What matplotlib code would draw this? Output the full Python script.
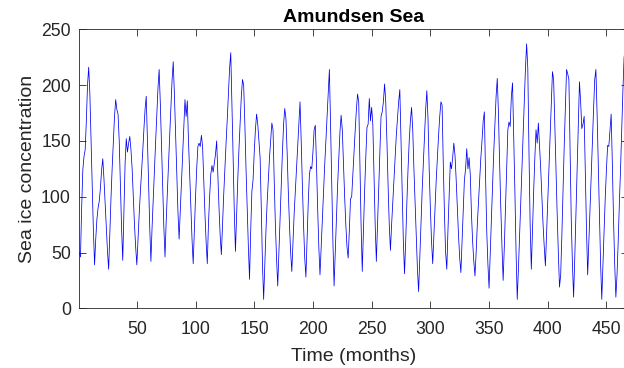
import matplotlib
matplotlib.use("Agg")
import matplotlib.pyplot as plt
import numpy as np

# Monthly sea ice concentration, Amundsen Sea (Jan..Dec per row)
ice_years_01_10 = [
    [50, 46, 90, 124, 136, 142, 168, 200, 216, 192, 150, 110],
    [70, 39, 62, 80, 90, 96, 108, 124, 134, 116, 94, 73],
    [51, 35, 68, 99, 126, 149, 172, 187, 178, 174, 150, 110],
    [72, 43, 85, 130, 152, 140, 148, 154, 142, 125, 100, 75],
    [55, 39, 62, 84, 104, 122, 140, 160, 178, 190, 153, 113],
    [72, 42, 73, 99, 125, 149, 173, 197, 214, 184, 147, 110],
    [73, 46, 78, 104, 130, 155, 179, 204, 221, 192, 157, 122],
    [87, 62, 87, 112, 137, 162, 187, 172, 186, 150, 120, 90],
    [62, 40, 70, 100, 125, 145, 148, 145, 155, 145, 115, 85],
    [60, 40, 75, 100, 120, 128, 122, 130, 138, 150, 120, 90],
]
ice_years_11_20 = [
    [65, 48, 75, 102, 126, 148, 169, 193, 215, 229, 184, 136],
    [87, 51, 85, 116, 143, 167, 190, 205, 200, 165, 125, 90],
    [55, 26, 70, 105, 115, 140, 160, 174, 165, 150, 135, 90],
    [40, 8, 40, 70, 95, 115, 135, 150, 166, 160, 115, 75],
    [45, 20, 50, 80, 110, 140, 165, 179, 170, 140, 105, 75],
    [50, 33, 60, 85, 105, 125, 145, 165, 185, 150, 110, 75],
    [45, 28, 60, 95, 120, 127, 125, 140, 160, 164, 130, 90],
    [55, 30, 55, 80, 105, 128, 150, 172, 195, 214, 165, 110],
    [60, 20, 50, 80, 110, 135, 158, 173, 160, 130, 100, 75],
    [55, 45, 70, 98, 100, 120, 140, 160, 178, 192, 185, 130],
]
ice_years_21_30 = [
    [75, 33, 70, 105, 135, 162, 165, 188, 168, 180, 165, 120],
    [75, 42, 75, 110, 140, 172, 176, 185, 201, 185, 150, 110],
    [75, 52, 75, 95, 115, 135, 155, 170, 185, 196, 150, 100],
    [60, 31, 60, 95, 125, 150, 168, 180, 160, 125, 95, 65],
    [35, 15, 45, 75, 105, 130, 155, 178, 195, 170, 125, 90],
    [60, 40, 65, 90, 115, 135, 155, 172, 185, 182, 130, 85],
    [50, 35, 70, 100, 131, 125, 135, 148, 137, 115, 90, 65],
    [45, 32, 60, 90, 115, 125, 143, 125, 135, 120, 85, 60],
    [42, 29, 50, 75, 95, 115, 135, 150, 168, 176, 120, 70],
    [40, 18, 50, 80, 110, 140, 165, 190, 206, 175, 130, 90],
]
ice_years_31_39 = [
    [55, 25, 55, 90, 125, 160, 167, 163, 190, 202, 155, 105],
    [50, 8, 35, 65, 95, 125, 155, 185, 215, 237, 215, 140],
    [75, 35, 70, 105, 135, 160, 148, 166, 145, 125, 100, 75],
    [55, 38, 67, 96, 125, 154, 183, 212, 205, 165, 125, 85],
    [50, 19, 30, 65, 105, 145, 180, 214, 210, 205, 140, 80],
    [40, 10, 45, 85, 125, 165, 203, 185, 161, 165, 172, 120],
    [70, 30, 60, 90, 120, 150, 178, 205, 214, 175, 130, 85],
    [40, 8, 40, 70, 100, 125, 146, 145, 160, 174, 130, 80],
    [40, 10, 30, 60, 95, 125, 160, 195, 225, 232, 200, 150],
]

x_ticks = [50, 100, 150, 200, 250, 300, 350, 400, 450]
y_ticks = [0, 50, 100, 150, 200, 250]

values = np.concatenate([np.ravel(ice_years_01_10), np.ravel(ice_years_11_20),
                         np.ravel(ice_years_21_30), np.ravel(ice_years_31_39)])
months = np.arange(1, len(values) + 1)

plt.rcParams['font.family'] = ['Liberation Sans', 'DejaVu Sans']
dark = (0.15, 0.15, 0.15)

fig = plt.figure(figsize=(6.24, 3.68), dpi=100)
fig.patch.set_facecolor('white')
ax = fig.add_axes([79.3 / 624, 1 - 308.3 / 368, 548.3 / 624, 279.0 / 368])
ax.plot(months, values, color=(0, 0, 0.95), lw=0.55)

ax.set_xlim(1, len(values))
ax.set_ylim(0, 250)
ax.set_xticks(x_ticks)
ax.set_yticks(y_ticks)
ax.tick_params(direction='in', length=5, width=0.6, colors=dark,
               labelsize=12.7, top=True, right=True)
ax.tick_params(axis='x', pad=9)
ax.tick_params(axis='y', pad=6)
for s in ax.spines.values():
    s.set_color(dark)
    s.set_linewidth(0.6)

ax.set_title('Amundsen Sea', fontsize=14, fontweight='bold', color='black', pad=5)
ax.set_xlabel('Time (months)', fontsize=14, color=dark, labelpad=7)
ax.set_ylabel('Sea ice concentration', fontsize=14, color=dark, labelpad=4)

fig.savefig('out.png', dpi=100)
